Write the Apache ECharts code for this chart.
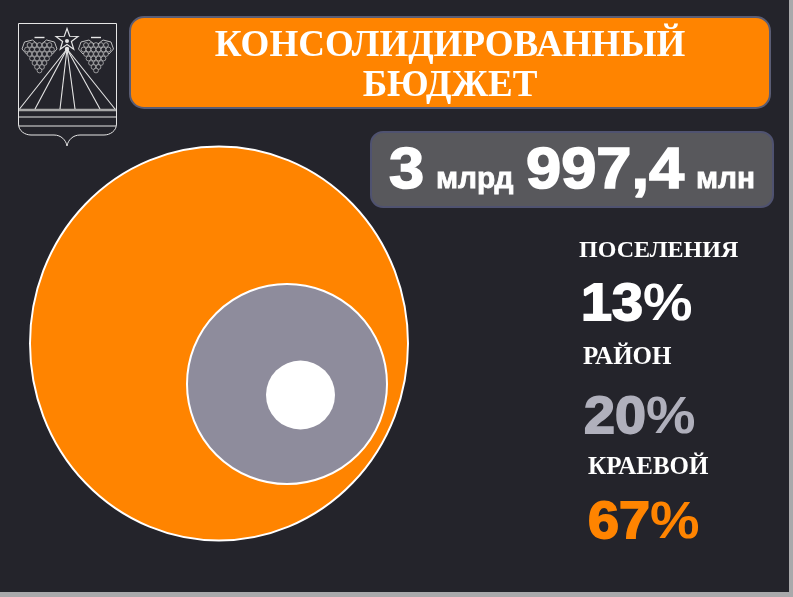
<!DOCTYPE html>
<html><head><meta charset="utf-8">
<style>html,body{margin:0;padding:0;background:#24242b}#c{width:793px;height:597px}</style>
<script src="https://cdn.jsdelivr.net/npm/echarts@6/dist/echarts.min.js"></script>
</head><body><div id="c"></div>
<script>
const titleLines = ['КОНСОЛИДИРОВАННЫЙ', 'БЮДЖЕТ'];
const categories = ['КРАЕВОЙ', 'РАЙОН', 'ПОСЕЛЕНИЯ'];
const shares = [67, 20, 13];
const totalParts = [['3', 'big'], ['млрд', 'small'], ['997,4', 'big'], ['млн', 'small']];

// layout (screen pixels; the axes below map 1:1 to the page)
const W = 793, H = 597;
const centers = [[219, 343.5], [287, 384], [300.5, 395]];
const sizes = [[378, 394], [200, 200], [69, 69]];
const fills = ['#ff8400', '#8e8c9c', '#ffffff'];
const strokes = ['#ffffff', '#ffffff', '#ffffff'];
const strokeW = [2, 2, 0];
const labelPos = [[588, 475], [583, 365], [579, 258]];
const labelSize = [25, 25, 24];
const pctPos = [[588, 538], [584, 433], [581, 320]];
const pctFill = ['#ff8400', '#b0b0bc', '#ffffff'];
const partX = [389, 436, 526, 696];

const serif = '"Liberation Serif"', sans = '"Liberation Sans"';
const g = [];
function txt(t, x, base, size, family, fill, sx, stroke) {
  g.push({type: 'text', z: 10, x, y: base - 0.78 * size, scaleX: sx || 1,
    style: {text: t, x: 0, y: 0, font: 'bold ' + size + 'px ' + family, fill,
      stroke: stroke ? fill : null, lineWidth: stroke || 0}});
}
// page edge
g.push({type: 'rect', z: 1, shape: {x: 789, y: 0, width: 4, height: H}, style: {fill: '#a9a9ab'}});
g.push({type: 'rect', z: 1, shape: {x: 0, y: 592, width: W, height: 5}, style: {fill: '#a9a9ab'}});
// banners
g.push({type: 'rect', z: 2, shape: {x: 130, y: 17, width: 640, height: 91, r: 14}, style: {fill: '#ff8400', stroke: '#5a5d75', lineWidth: 2}});
g.push({type: 'rect', z: 2, shape: {x: 371, y: 132, width: 402, height: 75, r: 12}, style: {fill: '#58585c', stroke: '#4f5270', lineWidth: 2}});
// total
totalParts.forEach((p, i) => {
  const big = p[1] === 'big';
  txt(p[0], partX[i], 188, big ? 58 : 29, sans, '#ffffff', big ? 1.09 : 1.03, big ? 1.6 : 0.8);
});
// legend texts
categories.forEach((c, i) => {
  txt(c, labelPos[i][0], labelPos[i][1], labelSize[i], serif, '#ffffff');
  txt(String(shares[i]), pctPos[i][0], pctPos[i][1], 52, sans, pctFill[i], 1.07, 1.8);
  txt('%', pctPos[i][0] + 62, pctPos[i][1], 52, sans, pctFill[i], 1.07);
});
// coat of arms
const L = '#e6e6e6';
function line(pts, w) {
  g.push({type: 'polyline', z: 5, shape: {points: pts}, style: {stroke: L, lineWidth: w || 1, fill: null}});
}
function curve(x1, y1, cpx1, cpy1, cpx2, cpy2, x2, y2) {
  g.push({type: 'bezierCurve', z: 5, shape: {x1, y1, cpx1, cpy1, cpx2, cpy2, x2, y2}, style: {stroke: L, lineWidth: 1, fill: null}});
}
line([[18.5, 124], [18.5, 23.5], [116.5, 23.5], [116.5, 124]], 1);
curve(18.5, 124, 18.5, 131, 25, 135, 31, 135);
curve(116.5, 124, 116.5, 131, 110, 135, 104, 135);
line([[31, 135], [54, 135]], 1);
line([[80, 135], [104, 135]], 1);
curve(54, 135, 61, 135, 66, 140, 67, 146);
curve(80, 135, 73, 135, 68, 140, 67, 146);
g.push({type: 'polyline', z: 5, shape: {points: [[19, 110], [116, 110]]}, style: {stroke: '#a8a8a8', lineWidth: 2.4, fill: null}});
line([[19, 117], [116, 117]], 1.2);
line([[19, 126], [116, 126]], 1.2);
[19.5, 35, 60, 75, 100, 115].forEach(x => line([[67, 49], [x, 109]], 1.1));
const star = [];
for (let i = 0; i < 10; i++) {
  const a = -Math.PI / 2 + i * Math.PI / 5, r = i % 2 ? 4.6 : 11.5;
  star.push([67 + r * Math.cos(a), 40 + r * Math.sin(a)]);
}
g.push({type: 'polygon', z: 5, shape: {points: star}, style: {stroke: L, lineWidth: 1.2, fill: '#24242b'}});
g.push({type: 'circle', z: 6, shape: {cx: 67, cy: 41, r: 2}, style: {fill: L}});
g.push({type: 'circle', z: 6, shape: {cx: 67, cy: 49, r: 2.2}, style: {fill: L}});
[39.5, 96].forEach(cx => {
  [-1, 1].forEach(s => {
    g.push({type: 'polygon', z: 4, shape: {points: [[cx + s * 17.5, 49], [cx + s * 15, 42], [cx + s * 7, 40], [cx + s * 2, 44], [cx + s * 9, 51], [cx + s * 13, 54]]}, style: {stroke: '#cfcfcf', lineWidth: .9, fill: '#24242b'}});
  });
  [[5, 45], [6, 49.5], [5, 54], [4, 58.5], [3, 63], [2, 67], [1, 70.5]].forEach(([n, y]) => {
    for (let k = 0; k < n; k++) {
      g.push({type: 'circle', z: 5, shape: {cx: cx + (k - (n - 1) / 2) * 5, cy: y, r: 2.4}, style: {stroke: '#c8c8c8', lineWidth: .7, fill: '#24242b'}});
    }
  });
  line([[cx - 5, 37.5], [cx + 5, 37.5]], 1.4);
});

const chart = echarts.init(document.getElementById('c'), null, {renderer: 'canvas'});
const ellipse = 'path://M0,-100 A100,100 0 1 1 0,100 A100,100 0 1 1 0,-100 Z';
chart.setOption({
  animation: false,
  backgroundColor: '#24242b',
  title: {
    text: titleLines.join('\n'), left: 445, top: 21, textAlign: 'center', z: 10,
    textStyle: {fontFamily: serif, fontWeight: 'bold', fontSize: 37, lineHeight: 40, color: '#fff'}
  },
  grid: {left: 0, right: 0, top: 0, bottom: 0},
  xAxis: {type: 'value', min: 0, max: W, show: false},
  yAxis: {type: 'value', min: 0, max: H, inverse: true, show: false},
  series: [{
    type: 'scatter',
    z: 3,
    silent: true,
    symbol: ellipse,
    symbolKeepAspect: false,
    data: shares.map((v, i) => ({
      name: categories[i],
      value: [centers[i][0], centers[i][1], v],
      symbolSize: sizes[i],
      itemStyle: {color: fills[i], opacity: 1, borderColor: strokes[i], borderWidth: strokeW[i]}
    }))
  }],
  graphic: g
});
</script></body></html>
